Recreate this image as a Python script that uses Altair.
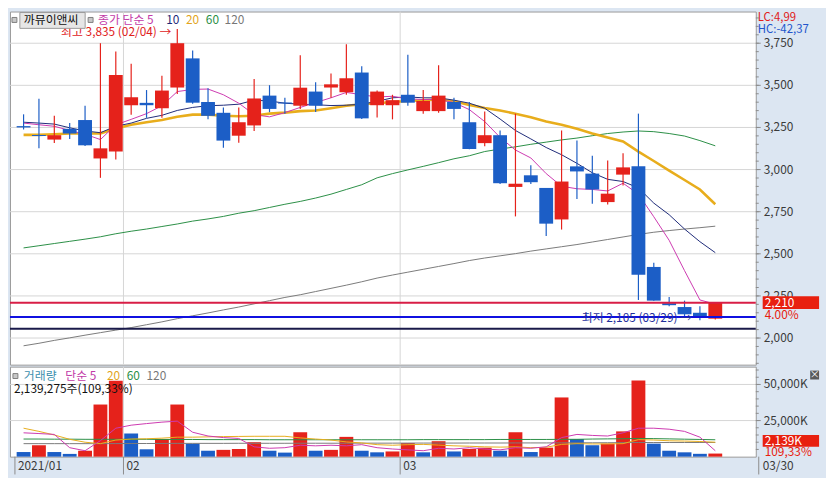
import altair as alt
import pandas as pd

# ---------------- data ----------------
dates = ["01/21", "01/22", "01/25", "01/26", "01/27", "01/28", "01/29",
         "02/01", "02/02", "02/03", "02/04", "02/05", "02/08", "02/09", "02/10",
         "02/15", "02/16", "02/17", "02/18", "02/19", "02/22", "02/23", "02/24",
         "02/25", "02/26",
         "03/02", "03/03", "03/04", "03/05", "03/08", "03/09", "03/10", "03/11",
         "03/12", "03/15", "03/16", "03/17", "03/18", "03/19", "03/22", "03/23",
         "03/24", "03/25", "03/26", "03/29", "03/30"]

open_ = [3258, 3205, 3178, 3242, 3294, 3066, 3107,
         3382, 3396, 3364, 3487, 3660, 3401, 3337, 3201, 3262, 3439, 3398, 3379,
         3463, 3487, 3459, 3576, 3382, 3382,
         3444, 3347, 3347, 3401, 3281, 3157, 3204, 2897, 2966, 2891, 2704, 3019,
         2976, 2807, 2970, 3019, 2422, 2207, 2184, 2150, 2115]
high = [3328, 3420, 3319, 3276, 3379, 3750, 3701,
        3628, 3472, 3557, 3835, 3707, 3482, 3369, 3369, 3538, 3501, 3426, 3679,
        3519, 3570, 3744, 3613, 3469, 3444,
        3682, 3472, 3619, 3426, 3401, 3345, 3232, 3332, 3026, 2891, 3232, 3172,
        3082, 3054, 3097, 3332, 2447, 2244, 2222, 2188, 2210]
low = [3238, 3126, 3157, 3182, 3140, 2951, 3060,
       3326, 3307, 3307, 3448, 3390, 3298, 3129, 3159, 3229, 3341, 3332, 3360,
       3341, 3426, 3444, 3300, 3309, 3298,
       3379, 3332, 3337, 3298, 3120, 3139, 2915, 2722, 2914, 2606, 2644, 2826,
       2797, 2792, 2906, 2226, 2222, 2188, 2130, 2105, 2110]
close = [3250, 3200, 3204, 3214, 3144, 3126, 3562,
         3429, 3382, 3469, 3750, 3397, 3319, 3172, 3281, 3422, 3360, 3392, 3486,
         3379, 3506, 3542, 3304, 3463, 3412,
         3397, 3407, 3439, 3360, 3122, 3204, 2919, 2916, 2925, 2679, 2929, 2989,
         2882, 2857, 3013, 2376, 2222, 2195, 2141, 2125, 2210]

volume_k = [3200, 7900, 3200, 1900, 4100, 36100, 52500,
            16000, 5100, 12200, 36100, 9000, 4100, 4700, 5300, 10000, 4100, 2800,
            16900, 4100, 4700, 13700, 4100, 3000, 3600,
            9400, 3000, 10700, 3600, 5300, 6200, 4100, 16900, 3200, 6200, 41000,
            12200, 7900, 9000, 17500, 52800, 9000, 4100, 3000, 1957, 2139]
volume_dir = ["down", "up", "down", "down", "up", "up", "up",
              "down", "down", "up", "up", "down", "down", "up", "up", "up", "down",
              "down", "up", "down", "up", "up", "down", "down", "up",
              "up", "down", "up", "down", "up", "up", "down", "up", "down", "up",
              "up", "down", "down", "up", "up", "up", "down", "down", "down",
              "down", "up"]

ma5 = [3276, 3266, 3257, 3232, 3210, 3178, 3266,
       3298, 3332, 3379, 3463, 3476, 3478, 3444, 3394, 3326, 3313, 3338, 3369,
       3398, 3426, 3458, 3444, 3431, 3435,
       3420, 3416, 3416, 3398, 3356, 3285, 3191, 3116, 3069, 2976, 2901, 2886,
       2882, 2873, 2919, 2854, 2720, 2580, 2400, 2226, 2201]
ma10 = [3281, 3276, 3270, 3248, 3229, 3219, 3257,
        3276, 3304, 3322, 3351, 3369, 3379, 3382, 3388, 3412, 3407, 3394, 3388,
        3385, 3380, 3382, 3388, 3405, 3426,
        3431, 3426, 3426, 3412, 3394, 3364, 3300, 3232, 3182, 3131, 3088, 3037,
        2981, 2942, 2929, 2891, 2801, 2732, 2647, 2572, 2507]
ma20 = [3206, 3206, 3210, 3214, 3214, 3214, 3244,
        3266, 3281, 3294, 3313, 3326, 3326, 3319, 3317, 3319, 3332, 3338, 3347,
        3351, 3364, 3379, 3388, 3394, 3401,
        3407, 3412, 3416, 3405, 3384, 3366, 3351, 3332, 3311, 3285, 3266, 3242,
        3214, 3191, 3167, 3107, 3051, 2994, 2938, 2882, 2794]
ma60 = [2535, 2548, 2561, 2574, 2587, 2601, 2619,
        2634, 2647, 2662, 2677, 2694, 2707, 2722, 2741, 2756, 2775, 2794, 2811,
        2831, 2854, 2882, 2910, 2951, 2976,
        2998, 3019, 3041, 3064, 3082, 3107, 3122, 3135, 3150, 3163, 3176, 3187,
        3201, 3214, 3223, 3229, 3225, 3214, 3199, 3172, 3141]
ma120 = [1954, 1969, 1986, 2001, 2017, 2032, 2047,
         2062, 2079, 2096, 2115, 2132, 2149, 2167, 2184, 2203, 2222, 2241, 2257,
         2276, 2295, 2314, 2334, 2356, 2374,
         2391, 2408, 2425, 2442, 2460, 2475, 2488, 2501, 2516, 2529, 2542, 2555,
         2570, 2585, 2600, 2615, 2628, 2638, 2647, 2655, 2664]

vma5 = [16500, 16000, 15400, 6200, 4100, 11100, 19700,
        21800, 22900, 23900, 24600, 16900, 14300, 13200, 12600, 6800, 5800, 6200,
        7900, 7500, 7900, 7500, 8300, 6200, 5300,
        4700, 4100, 5800, 5300, 6200, 5300, 4700, 6200, 5800, 6800, 13200, 15400,
        14700, 14300, 16500, 19700, 19700, 19000, 17500, 13500, 4100]
vma20 = [19700, 17500, 15000, 12000, 10000, 9000, 11500,
         12200, 12400, 12800, 13500, 13500, 13700, 13900, 14000, 14100, 14100,
         14100, 13000, 12200, 11500, 10200, 9500, 8300, 7900,
         8300, 8500, 8000, 7500, 7200, 6800, 6600, 6800, 6200, 6500, 8500, 9000,
         8800, 8800, 9000, 11800, 11500, 11000, 10800, 10500, 10000]
vma60 = [12200, 12200, 12100, 12100, 12000, 12000, 12000,
         12000, 12000, 11900, 11900, 11900, 11800, 11800, 11800, 11800, 11700,
         11700, 11700, 11700, 11700, 11700, 11700, 11700, 11700,
         11700, 11800, 11800, 11800, 11800, 11800, 11900, 11900, 11900, 11900,
         12000, 12000, 12200, 12300, 12400, 12600, 12500, 12300, 12100, 11900, 11700]
vma120 = [9000, 9000, 9000, 9000, 9000, 9000, 9050,
          9100, 9100, 9150, 9200, 9200, 9200, 9200, 9250, 9250, 9250, 9250, 9300,
          9300, 9300, 9300, 9350, 9350, 9350,
          9400, 9400, 9400, 9400, 9450, 9450, 9450, 9500, 9500, 9500, 9550, 9600,
          9600, 9650, 9700, 9800, 9800, 9800, 9800, 9800, 9800]

current_price = 2210
prev_close = 2125
base_line = 2055
stock_name = "까뮤이앤씨"
month_labels = ["2021/01", "02", "03"]
month_first_index = [0, 7, 25]
last_date_label = "03/30"

price_major = [2000, 2250, 2500, 2750, 3000, 3250, 3500, 3750]
price_minor = list(range(1850, 3938, 50))
vol_major = [25000, 50000]
vol_minor = list(range(5000, 62340, 5000))

# ---------------- layout / style ----------------
FONT = "Noto Sans CJK KR"
RED = "#e5221b"
BLUE = "#1c5ec6"
GRID = "#d6d6d6"
TICK = "#8c8c8c"
W, H1, H2 = 754, 357, 91
XMIN, XMAX = -0.5625, 47.3125
PMIN, PMAX = 1842, 3938
VMAX = 62340

xs = alt.Scale(domain=[XMIN, XMAX], nice=False, zero=False)
ys = alt.Scale(domain=[PMIN, PMAX], nice=False, zero=False)
vs = alt.Scale(domain=[0, VMAX], nice=False, zero=False)
cscale = alt.Scale(domain=["up", "down"], range=[RED, BLUE])

n = len(dates)
df = pd.DataFrame({
    "i": list(range(n)), "date": dates, "open": open_, "high": high, "low": low,
    "close": close, "vol": volume_k, "vdir": volume_dir,
    "ma5": ma5, "ma10": ma10, "ma20": ma20, "ma60": ma60, "ma120": ma120,
    "vma5": vma5, "vma20": vma20, "vma60": vma60, "vma120": vma120,
})
df["dir"] = ["up" if c >= o else "down" for o, c in zip(open_, close)]

bounds = [XMIN] + [k - 0.5 for k in month_first_index[1:]]
months = pd.DataFrame({"b": bounds, "lab": month_labels})
inner_months = months.iloc[1:]


def txt(text, x, y, color, size=12, align="left"):
    return alt.Chart(alt.Data(values=[{"t": text}])).mark_text(
        align=align, baseline="middle", font=FONT, fontSize=size, color=color
    ).encode(x=alt.value(x), y=alt.value(y), text="t:N")


def box(x1, x2, y1, y2, fill, stroke=None):
    kw = dict(fill=fill)
    if stroke:
        kw.update(stroke=stroke, strokeWidth=1)
    return alt.Chart(alt.Data(values=[{"a": 1}])).mark_rect(**kw).encode(
        x=alt.value(x1), x2=alt.value(x2), y=alt.value(y1), y2=alt.value(y2))


def hgrid(levels, scale, field="v"):
    d = pd.DataFrame({field: levels})
    return alt.Chart(d).mark_rule(color=GRID, strokeWidth=1).encode(
        y=alt.Y(f"{field}:Q", scale=scale, axis=None), x=alt.value(0), x2=alt.value(W))


def vgrid(h):
    return alt.Chart(inner_months).mark_rule(color=GRID, strokeWidth=1).encode(
        x=alt.X("b:Q", scale=xs, axis=None), y=alt.value(0), y2=alt.value(h))


def ticks(levels, scale, length):
    d = pd.DataFrame({"v": levels})
    return alt.Chart(d).mark_rule(color=TICK, strokeWidth=1).encode(
        y=alt.Y("v:Q", scale=scale, axis=None), x=alt.value(W), x2=alt.value(W + length))


def labels(levels, scale, fmt):
    d = pd.DataFrame({"v": levels})
    d["t"] = [fmt(v) for v in levels]
    return alt.Chart(d).mark_text(align="left", baseline="middle", font=FONT,
                                  fontSize=12, color="#3a3a3a").encode(
        y=alt.Y("v:Q", scale=scale, axis=None), x=alt.value(W + 8), text="t:N")


base = alt.Chart(df)

ma_layers = []
for col, color, width in [("ma120", "#7a7a7a", 1), ("ma60", "#2a8f46", 1),
                          ("ma20", "#e8ad1c", 2.6), ("ma10", "#1e2a78", 1),
                          ("ma5", "#cc3ab0", 1)]:
    ma_layers.append(base.mark_line(color=color, strokeWidth=width).encode(
        x=alt.X("i:Q", scale=xs, axis=None),
        y=alt.Y(f"{col}:Q", scale=ys, axis=None)))

wicks = base.mark_rule(strokeWidth=1.2).encode(
    x=alt.X("i:Q", scale=xs, axis=None),
    y=alt.Y("low:Q", scale=ys, axis=None), y2="high:Q",
    color=alt.Color("dir:N", scale=cscale, legend=None))
bodies = base.mark_bar(size=14).encode(
    x=alt.X("i:Q", scale=xs, axis=None),
    y=alt.Y("open:Q", scale=ys, axis=None), y2="close:Q",
    color=alt.Color("dir:N", scale=cscale, legend=None))


def hline(value, color):
    return alt.Chart(alt.Data(values=[{"v": value}])).mark_rule(
        color=color, strokeWidth=2).encode(
        y=alt.Y("v:Q", scale=ys, axis=None), x=alt.value(0), x2=alt.value(W))


i_hi = max(range(n), key=lambda k: high[k])
i_lo = min(range(n), key=lambda k: low[k])
ann = pd.DataFrame({
    "i": [i_hi, i_lo],
    "p": [high[i_hi], low[i_lo]],
    "t": [f"최고 {high[i_hi]:,} ({dates[i_hi]}) →", f"최저 {low[i_lo]:,} ({dates[i_lo]}) →"],
})
ann_hi = alt.Chart(ann.iloc[[0]]).mark_text(
    align="right", baseline="middle", font=FONT, fontSize=12, color="#e0201a",
    dx=-6, dy=3).encode(x=alt.X("i:Q", scale=xs, axis=None),
                        y=alt.Y("p:Q", scale=ys, axis=None), text="t:N")
ann_lo = alt.Chart(ann.iloc[[1]]).mark_text(
    align="right", baseline="middle", font=FONT, fontSize=12, color="#1f2f9c",
    dx=-8, dy=-2).encode(x=alt.X("i:Q", scale=xs, axis=None),
                         y=alt.Y("p:Q", scale=ys, axis=None), text="t:N")

cur = alt.Chart(alt.Data(values=[{"v": current_price,
                                  "t": f"{current_price:,}",
                                  "c": f"{(current_price / prev_close - 1) * 100:.2f}%"}]))
cur_box = cur.mark_rule(color="#e8200f", strokeWidth=13).encode(
    y=alt.Y("v:Q", scale=ys, axis=None), x=alt.value(W + 7), x2=alt.value(W + 64))
cur_txt = cur.mark_text(align="left", baseline="middle", font=FONT, fontSize=12,
                        color="white").encode(
    y=alt.Y("v:Q", scale=ys, axis=None), x=alt.value(W + 9), text="t:N")
cur_pct = cur.mark_text(align="left", baseline="middle", font=FONT, fontSize=12,
                        color="#e8200f", dy=13).encode(
    y=alt.Y("v:Q", scale=ys, axis=None), x=alt.value(W + 9), text="c:N")

legend_price = [
    box(2, 7, 6, 11, "#c8c8c8", "#808080"),
    box(10, 76, 1, 17, "#e6e6e6", "#9a9a9a"),
    txt(stock_name, 14, 9, "#111111"),
    box(79, 84, 6, 11, "#c8c8c8", "#808080"),
    txt("종가 단순 5", 89, 9, "#c23aa8"),
    txt("10", 158, 9, "#1e2a78"),
    txt("20", 178, 9, "#e2a41c"),
    txt("60", 198, 9, "#2a8f46"),
    txt("120", 217, 9, "#777777"),
    txt("LC:4,99", W + 2, 6.5, "#e0201a", size=11.5),
    txt("HC:-42,37", W + 2, 18.5, "#2255cc", size=11.5),
]

price = alt.layer(
    hgrid(price_major, ys), vgrid(H1),
    ticks(price_minor, ys, 3), ticks(price_major, ys, 5),
    labels(price_major, ys, lambda v: f"{v:,}"),
    *ma_layers, wicks, bodies,
    hline(current_price, "#d81e46"), hline(prev_close, "#1010e0"),
    hline(base_line, "#1a1a4a"),
    ann_hi, ann_lo, cur_box, cur_txt, cur_pct, *legend_price,
).properties(width=W, height=H1)

# ---------------- volume panel ----------------
vbase = alt.Chart(df)
vbars = vbase.mark_bar(size=14, orient="vertical").encode(
    x=alt.X("i:Q", scale=xs, axis=None),
    y=alt.Y("vol:Q", scale=vs, axis=None, stack=None),
    color=alt.Color("vdir:N", scale=cscale, legend=None))
vma_layers = []
for col, color in [("vma120", "#7a7a7a"), ("vma60", "#2a8f46"),
                   ("vma20", "#e8ad1c"), ("vma5", "#cc3ab0")]:
    vma_layers.append(vbase.mark_line(color=color, strokeWidth=1).encode(
        x=alt.X("i:Q", scale=xs, axis=None),
        y=alt.Y(f"{col}:Q", scale=vs, axis=None)))

month_div = alt.Chart(months).mark_rule(color=TICK, strokeWidth=1).encode(
    x=alt.X("b:Q", scale=xs, axis=None), y=alt.value(H2), y2=alt.value(H2 + 18))
month_txt = alt.Chart(months).mark_text(
    align="left", baseline="middle", font=FONT, fontSize=12, color="#3a3a3a",
    dx=3).encode(x=alt.X("b:Q", scale=xs, axis=None), y=alt.value(H2 + 9),
                 text="lab:N")

last_vol = volume_k[-1]
legend_vol = [
    box(3, 8, 7, 12, "#c8c8c8", "#808080"),
    txt("거래량", 14, 10, "#3d8fae"),
    txt("단순 5", 56, 10, "#c23aa8"),
    txt("20", 98, 10, "#e2a41c"),
    txt("60", 118, 10, "#2a8f46"),
    txt("120", 138, 10, "#777777"),
    txt("2,139,275주(109,33%)", 4, 23, "#111111"),
    box(W + 7, W + 64, 69, 81, "#e8200f"),
    txt(f"{last_vol:,}K", W + 9, 75, "white"),
    txt("109,33%", W + 9, 86, "#e8200f"),
    box(W + 55, W + 64, 4, 13, "#5a5a5a"),
    txt("×", W + 59.5, 8.5, "white", size=10, align="center"),
    txt(last_date_label, W + 7, H2 + 9, "#3a3a3a"),
]
end_div = alt.Chart(alt.Data(values=[{"a": 1}])).mark_rule(
    color=TICK, strokeWidth=1).encode(
    x=alt.value(W + 3), y=alt.value(H2), y2=alt.value(H2 + 18))

volume = alt.layer(
    hgrid(vol_major, vs), vgrid(H2),
    ticks(vol_minor, vs, 3), ticks(vol_major, vs, 5),
    labels(vol_major, vs, lambda v: f"{v:,}K"),
    vbars, *vma_layers, *legend_vol, month_div, month_txt, end_div,
).properties(width=W, height=H2)

chart = alt.vconcat(price, volume, spacing=0).properties(padding=0).configure(
    background="#dce6f2"
).configure_view(stroke="#9a9a9a", strokeWidth=1, fill="white")

chart.save("out.html", embed_options={"renderer": "svg", "actions": False})
